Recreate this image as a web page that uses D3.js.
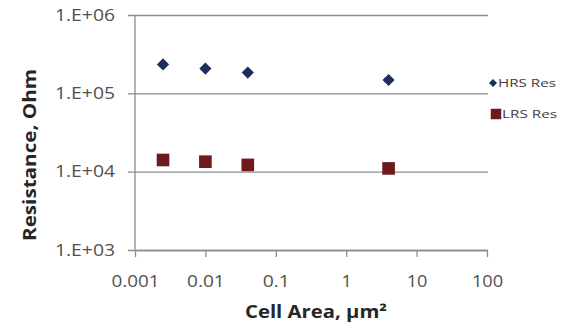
<!DOCTYPE html>
<html>
<head>
<meta charset="utf-8">
<script src="https://cdn.jsdelivr.net/npm/d3@7"></script>
<style>
  html, body { margin: 0; padding: 0; background: #fff; }
  svg { display: block; }
</style>
</head>
<body>
<svg id="chart" width="567" height="328"></svg>
<script>
// Cell area (µm²) and measured resistance for each state
const areas = [0.0025, 0.01, 0.04, 4];
const hrsRes = [234000, 207000, 184000, 148000];
const lrsRes = [14100, 13400, 12200, 11000];

const xTicks = [0.001, 0.01, 0.1, 1, 10, 100];
const xTickLabels = ["0.001", "0.01", "0.1", "1", "10", "100"];
const yTicks = [1e3, 1e4, 1e5, 1e6];
const yTickLabels = ["1.E+03", "1.E+04", "1.E+05", "1.E+06"];

const seriesNames = ["HRS Res", "LRS Res"];
const seriesColors = ["#1f2d5e", "#6e1a1c"];

const svg = d3.select("#chart");
const font = "'Open Sans', 'DejaVu Sans', sans-serif";
const gridColor = "#8c8c8c";

const plotL = 135, plotR = 487, plotT = 15, plotB = 250;
const x = d3.scaleLog().domain([0.001, 100]).range([plotL, plotR]);
const y = d3.scaleLog().domain([1e3, 1e6]).range([plotB, plotT]);

// Horizontal gridlines with short tick stubs left of the axis
const yAxis = d3.axisLeft(y)
  .tickValues(yTicks)
  .tickFormat((d, i) => yTickLabels[i])
  .tickSizeInner(-(plotR - plotL + 8))
  .tickSizeOuter(0)
  .tickPadding(13);
const gy = svg.append("g").attr("transform", `translate(${plotL - 7},0)`).call(yAxis);
gy.select(".domain").remove();
gy.selectAll(".tick line").attr("stroke", gridColor).attr("stroke-width", 1.3);
gy.selectAll(".tick text")
  .attr("font-family", font).attr("font-size", 16).attr("fill", "#505050")
  .attr("textLength", 60).attr("lengthAdjust", "spacingAndGlyphs");

// Vertical axis line
svg.append("line")
  .attr("x1", plotL).attr("x2", plotL).attr("y1", plotT).attr("y2", plotB)
  .attr("stroke", gridColor).attr("stroke-width", 1.3);

// Bottom axis
const xAxis = d3.axisBottom(x)
  .tickValues(xTicks)
  .tickFormat((d, i) => xTickLabels[i])
  .tickSizeInner(7)
  .tickSizeOuter(0)
  .tickPadding(19);
const gx = svg.append("g").attr("transform", `translate(0,${plotB})`).call(xAxis);
gx.select(".domain").attr("stroke", gridColor).attr("stroke-width", 1.3);
gx.selectAll(".tick line").attr("stroke", gridColor).attr("stroke-width", 1.3);
gx.selectAll(".tick text")
  .attr("font-family", font).attr("font-size", 16).attr("fill", "#505050")
  .each(function(d, i) {
    const n = xTickLabels[i].length;
    d3.select(this).attr("textLength", n * 10.4 - (xTickLabels[i].includes(".") ? 4 : 0))
      .attr("lengthAdjust", "spacingAndGlyphs");
  });

// Axis titles
svg.append("text")
  .attr("x", 316).attr("y", 318)
  .attr("text-anchor", "middle")
  .attr("font-family", font).attr("font-size", 17).attr("font-weight", "bold")
  .attr("fill", "#262626")
  .attr("textLength", 142).attr("lengthAdjust", "spacingAndGlyphs")
  .text("Cell Area, µm²");

svg.append("text")
  .attr("transform", "translate(36,155) rotate(-90)")
  .attr("text-anchor", "middle")
  .attr("font-family", font).attr("font-size", 17).attr("font-weight", "bold")
  .attr("fill", "#262626")
  .attr("textLength", 172).attr("lengthAdjust", "spacingAndGlyphs")
  .text("Resistance, Ohm");

// Markers
const diamond = d3.symbol(d3.symbolSquare, 74);
const square = d3.symbol(d3.symbolSquare, 160);

svg.append("g").selectAll("path")
  .data(areas.map((a, i) => [a, hrsRes[i]]))
  .join("path")
  .attr("d", diamond)
  .attr("transform", d => `translate(${x(d[0])},${y(d[1])}) rotate(45)`)
  .attr("fill", seriesColors[0]);

svg.append("g").selectAll("path")
  .data(areas.map((a, i) => [a, lrsRes[i]]))
  .join("path")
  .attr("d", square)
  .attr("transform", d => `translate(${x(d[0])},${y(d[1])})`)
  .attr("fill", seriesColors[1]);

// Legend
const legend = svg.append("g");
legend.append("path")
  .attr("d", d3.symbol(d3.symbolSquare, 32))
  .attr("transform", "translate(493,83) rotate(45)")
  .attr("fill", seriesColors[0]);
legend.append("path")
  .attr("d", d3.symbol(d3.symbolSquare, 110))
  .attr("transform", "translate(496,114)")
  .attr("fill", seriesColors[1]);
legend.selectAll("text")
  .data(seriesNames)
  .join("text")
  .attr("x", (d, i) => i === 0 ? 498 : 502)
  .attr("y", (d, i) => i === 0 ? 87 : 118)
  .attr("font-family", font).attr("font-size", 11).attr("fill", "#404040")
  .attr("textLength", (d, i) => i === 0 ? 58 : 55)
  .attr("lengthAdjust", "spacingAndGlyphs")
  .text(d => d);
</script>
</body>
</html>
